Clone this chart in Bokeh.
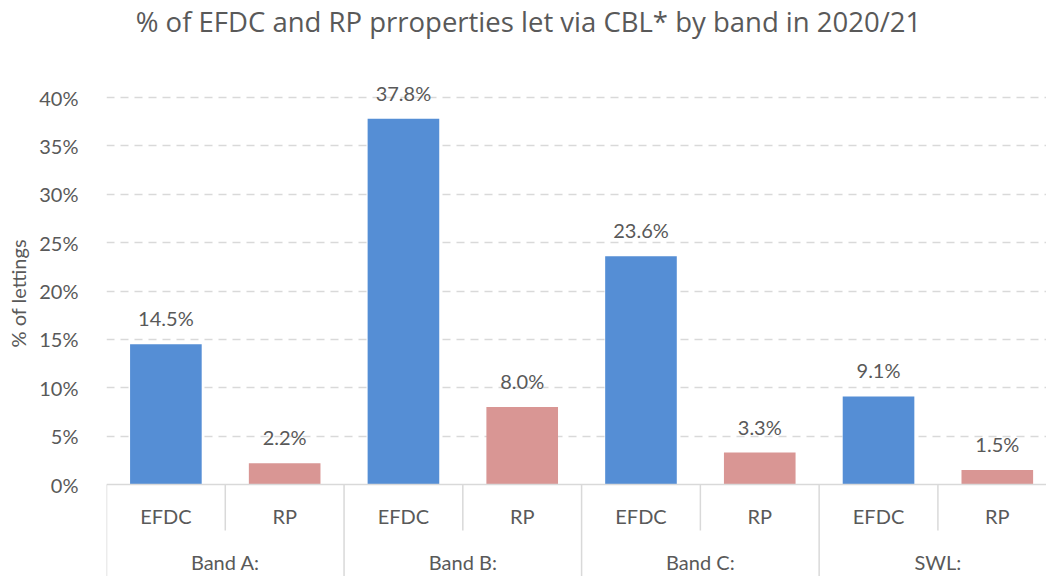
from bokeh.plotting import figure
from bokeh.models import Range1d, FixedTicker, ColumnDataSource, CustomJSTickFormatter, Title
from bokeh.core.properties import value
from bokeh.embed import file_html
from bokeh.resources import INLINE

# ---- data ----
groups = ["Band A:", "Band B:", "Band C:", "SWL:"]
series = ["EFDC", "RP"]
efdc = [14.5, 37.8, 23.6, 9.1]
rp = [2.2, 8.0, 3.3, 1.5]
y_ticks = [0, 5, 10, 15, 20, 25, 30, 35, 40]
title_text = "% of EFDC and RP prroperties let  via CBL* by band in 2020/21"
y_label = "% of lettings"

# ---- styling / layout ----
FONT = "Lato"
TITLE_FONT = "Open Sans"
TXT = "#595959"
GRID = "#D9D9D9"
COLORS = {"EFDC": "#558ED5", "RP": "#D99694"}
W, H = 1046, 576
LEFT = 105
PX_PER_UNIT = 9.675     # pixels per percentage point
CAT_PX = 118.9          # pixels per category slot
Y0_PX = 484             # pixel row of the 0% line

frame_w = W - LEFT
ymax = Y0_PX / PX_PER_UNIT
ymin = -(H - Y0_PX) / PX_PER_UNIT
xmax = frame_w / CAT_PX

p = figure(width=W, height=H, output_backend="svg", toolbar_location=None,
           x_range=Range1d(0, xmax), y_range=Range1d(ymin, ymax),
           min_border_left=LEFT, min_border_top=0, min_border_bottom=0, min_border_right=0,
           x_axis_location=None)
p.outline_line_color = None
p.background_fill_color = "white"

# y-axis label (left side), placed with a pixel offset from the bottom
p.add_layout(Title(text=y_label, align="left", offset=229, text_font=FONT,
                   text_font_size="20px", text_color=TXT, text_font_style="normal",
                   vertical_align="top"), "left")

# y axis
ya = p.yaxis[0]
ya.ticker = FixedTicker(ticks=y_ticks)
ya.formatter = CustomJSTickFormatter(code="return tick.toFixed(0) + '%';")
ya.axis_line_color = None
ya.major_tick_line_color = None
ya.minor_tick_line_color = None
ya.major_label_standoff = 22
ya.major_label_text_font = FONT
ya.major_label_text_font_size = "20px"
ya.major_label_text_color = TXT

p.xgrid.grid_line_color = None
p.ygrid.ticker = FixedTicker(ticks=[t for t in y_ticks if t > 0])
p.ygrid.grid_line_color = GRID
p.ygrid.grid_line_dash = "8 6"
p.ygrid.grid_line_width = 1.5

# build bar table
xs, tops, cols, labels, sub = [], [], [], [], []
for gi, g in enumerate(groups):
    for si, s in enumerate(series):
        v = (efdc if s == "EFDC" else rp)[gi]
        idx = gi * len(series) + si
        xs.append(idx + 0.5)
        tops.append(v)
        cols.append(COLORS[s])
        labels.append(f"{v:.1f}%")
        sub.append(s)
src = ColumnDataSource(dict(x=xs, top=tops, color=cols, label=labels, sub=sub,
                            zero=[0] * len(xs)))

p.vbar(x="x", top="top", bottom=0, width=0.603, fill_color="color", line_color=None, source=src)

# value labels
p.text(x="x", y="top", text="label", source=src, text_align="center", text_baseline="middle",
       y_offset=-26, text_font=value(FONT), text_font_size="20px", text_color=TXT)

# category axis line
n_cat = len(groups) * len(series)
p.segment(x0=[0], y0=[0], x1=[xmax], y1=[0], line_color=GRID, line_width=1.5)

# dividers
sub_len = 46 / PX_PER_UNIT
sub_x = [k for k in range(n_cat + 1) if k % len(series) != 0]
grp_x = [k for k in range(n_cat + 1) if k % len(series) == 0]
p.segment(x0=sub_x, y0=[0] * len(sub_x), x1=sub_x, y1=[-sub_len] * len(sub_x),
          line_color=GRID, line_width=1.5)
p.segment(x0=grp_x, y0=[0] * len(grp_x), x1=grp_x, y1=[ymin] * len(grp_x),
          line_color=GRID, line_width=1.5)

# sub-category labels
p.text(x="x", y="zero", text="sub", source=src, text_align="center", text_baseline="middle",
       y_offset=31, text_font=value(FONT), text_font_size="20px", text_color=TXT)
# group labels
gsrc = ColumnDataSource(dict(x=[gi * len(series) + len(series) / 2 for gi in range(len(groups))],
                             y=[0] * len(groups), g=groups))
p.text(x="x", y="y", text="g", source=gsrc, text_align="center", text_baseline="middle",
       y_offset=77, text_font=value(FONT), text_font_size="20px", text_color=TXT)

# chart title, drawn at the top of the canvas
p.text(x=[(531 - LEFT) / CAT_PX], y=[ymax], text=[title_text], text_align="center",
       text_baseline="middle", y_offset=21, text_font=value(TITLE_FONT),
       text_font_size="27.5px", text_color=TXT)

open("out.html", "w").write(file_html(p, INLINE))
